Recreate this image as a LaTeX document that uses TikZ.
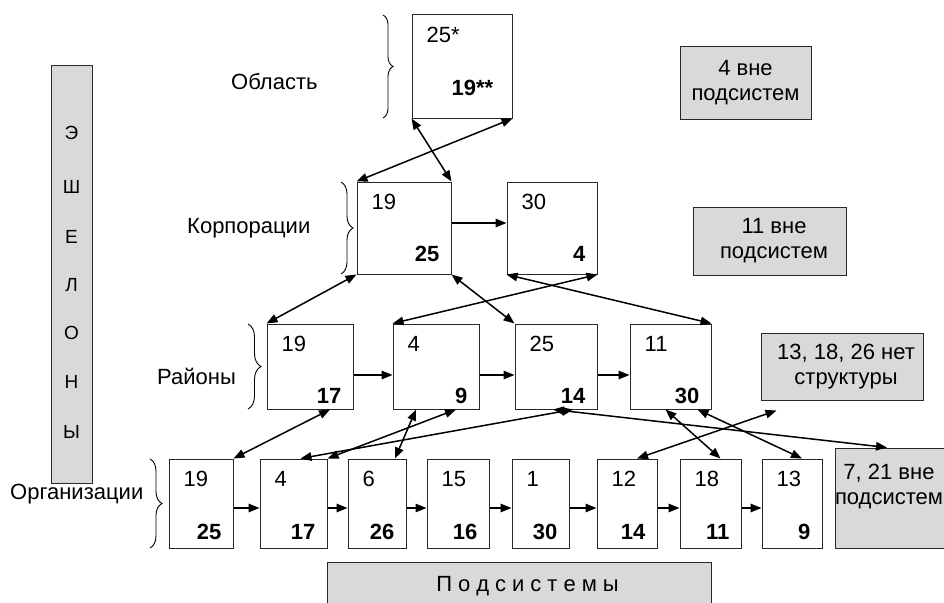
\documentclass[tikz,border=0pt]{standalone}
\usepackage{fontspec}
\setmainfont{Liberation Sans}
\usetikzlibrary{arrows.meta,calc,decorations.pathreplacing}
\definecolor{boxgray}{RGB}{217,217,217}
\definecolor{edgec}{RGB}{40,40,40}
\newcommand\lsk{\kern6pt}
\tikzset{
  cell/.style={draw=edgec, line width=1pt, fill=white, inner sep=0pt},
  greybox/.style={draw=edgec, line width=1pt, fill=boxgray, inner sep=0pt, align=center, font=\fontsize{22}{25}\selectfont},
  toptxt/.style={anchor=base west, inner sep=0pt, font=\fontsize{22}{25}\selectfont},
  bottxt/.style={anchor=base east, inner sep=0pt, font=\fontsize{22}{25}\selectfont\bfseries},
  lbl/.style={inner sep=0pt, font=\fontsize{22}{25}\selectfont},
  colltr/.style={inner sep=0pt, font=\fontsize{19}{21}\selectfont},
  conn/.style={line width=1.5pt, -{Triangle[length=11pt,width=8.5pt]}},
  biconn/.style={line width=1.5pt, {Triangle[length=11pt,width=8.5pt]}-{Triangle[length=11pt,width=8.5pt]}},
  brc/.style={decorate, decoration={brace, amplitude=#1}, line width=0.9pt},
}
% name, x1, y1, x2, y2, top text, bottom text, bottom baseline offset
\newcommand\cbox[8]{%
  \node[cell, minimum width={(#4-#2)*1pt}, minimum height={(#5-#3)*1pt}] (#1) at ({(#2+#4)/2},{(#3+#5)/2}) {};
  \node[toptxt] (#1t) at ($(#1.north west)+(15,28)$) {#6};
  \node[bottxt] (#1b) at ($(#1.south east)+(-12,-#8)$) {#7};
}
\begin{document}
\begin{tikzpicture}[x=1pt,y=-1pt]
\useasboundingbox (0,0) rectangle (944,602);

% echelon column
\node[greybox, minimum width=41pt, minimum height=418pt] (E) at (71.5,274) {};
\foreach \l/\yy [count=\i] in {Э/133,Ш/187,Е/237,Л/285,О/333,Н/382,Ы/432}
  \node[colltr] (e\i) at (71.5,\yy) {\l};

% level labels
\node[lbl, anchor=base west] (L1) at (231,89) {Область};
\node[lbl, anchor=base west] (L2) at (187,233) {Корпорации};
\node[lbl, anchor=base west] (L3) at (157,384) {Районы};
\node[lbl, anchor=base west] (L4) at (10,499) {Организации};

% braces
\draw[brc=10pt] (383,15) -- (383,118);
\draw[brc=12pt] (341,182) -- (341,274);
\draw[brc=13pt] (248,324) -- (248,409);
\draw[brc=12pt] (150,459) -- (150,548);

% top box
\node[cell, minimum width=100pt, minimum height=103pt] (T) at (462,66.5) {};
\node[toptxt] (Tt) at ($(T.north west)+(15,28)$) {25*};
\node[bottxt] (Tb) at ($(T.south east)+(-19,-23)$) {19**};

% corporations
\cbox{C1}{357}{182}{451}{274}{19}{25}{13}
\cbox{C2}{507}{182}{597}{274}{30}{4}{13}

% districts
\cbox{D1}{267}{324}{353}{409}{19}{17}{6}
\cbox{D2}{393}{324}{479}{409}{4}{9}{6}
\cbox{D3}{515}{324}{597}{409}{25}{14}{6}
\cbox{D4}{630}{324}{711}{409}{11}{30}{6}

% organisations
\cbox{O1}{169}{459}{233}{548}{19}{25}{9}
\cbox{O2}{260}{459}{327}{548}{4}{17}{9}
\cbox{O3}{348}{459}{406}{548}{6}{26}{9}
\cbox{O4}{427}{459}{489}{548}{15}{16}{9}
\cbox{O5}{512}{459}{569}{548}{1}{30}{9}
\cbox{O6}{597}{459}{657}{548}{12}{14}{9}
\cbox{O7}{680}{459}{741}{548}{18}{11}{9}
\cbox{O8}{762}{459}{822}{548}{13}{9}{9}

% grey side boxes
\node[greybox, minimum width=131pt, minimum height=72pt] (G1) at (745.5,83) {4 вне\\подсистем};
\node[greybox, minimum width=153pt, minimum height=68pt] (G2) at (769.5,241) {\hspace*{9pt}11 вне\\\hspace*{9pt}подсистем};
\node[greybox, minimum width=162pt, minimum height=67pt] (G3) at (842,366.5) {\hspace*{8pt}13, 18, 26 нет\\\hspace*{8pt}структуры};
\node[greybox, minimum width=120pt, minimum height=100pt] (G4) at (895,498) {};
\node[lbl, align=center] (G4t) at (889,486.5) {7, 21 вне\\подсистем};

% subsystems bar
\node[greybox, minimum width=384pt, minimum height=44pt] (P) at (519,584) {};
\node[lbl, anchor=base] (Pt) at (527.5,591) {П\lsk о\lsk д\lsk с\lsk и\lsk с\lsk т\lsk е\lsk м\lsk ы};

% connectors: top to corporations
\draw[biconn] (T.south west) -- (C1.north east);
\draw[biconn] (T.south east) -- (C1.north west);
\draw[conn] ($(C1.east)+(0,-5)$) -- ($(C2.west)+(0,-5)$);

% corporations to districts
\draw[biconn] (C1.south west) -- (D1.north west);
\draw[biconn] (C1.south east) -- (D3.north west);
\draw[biconn] (C2.south west) -- (D4.north east);
\draw[biconn] (C2.south east) -- (D2.north west);

% districts chain
\draw[conn] ($(D1.east)+(0,8.5)$) -- ($(D2.west)+(0,8.5)$);
\draw[conn] ($(D2.east)+(0,8.5)$) -- ($(D3.west)+(0,8.5)$);
\draw[conn] ($(D3.east)+(0,8.5)$) -- ($(D4.west)+(0,8.5)$);

% districts to organisations
\coordinate (g3end) at ($(G3.south west)+(16,10)$);
\draw[biconn] ($(D1.south)+(20,0)$) -- (O1.north east);
\draw[biconn] ($(D2.south)+(-20,0)$) -- ($(O3.north)+(18,0)$);
\draw[biconn] ($(D2.south)+(20,0)$) -- (O2.north east);
\draw[biconn] ($(D3.south)+(17,0)$) -- ($(O2.north)+(7,0)$);
\draw[biconn] ($(D3.south)+(-3,0)$) -- ($(G4.north)+(-8,0)$);
\draw[biconn] ($(D4.south)+(-5,0)$) -- ($(O7.north)+(10,0)$);
\draw[biconn] ($(D4.south)+(27,0)$) -- ($(O8.north)+(10,0)$);
\draw[biconn] ($(O6.north)+(10,0)$) -- (g3end);

% organisations chain
\foreach \a/\b in {O1/O2,O2/O3,O3/O4,O4/O5,O5/O6,O6/O7,O7/O8}
  \draw[conn] ($(\a.east)+(0,4.5)$) -- ($(\b.west)+(0,4.5)$);
\end{tikzpicture}
\end{document}
